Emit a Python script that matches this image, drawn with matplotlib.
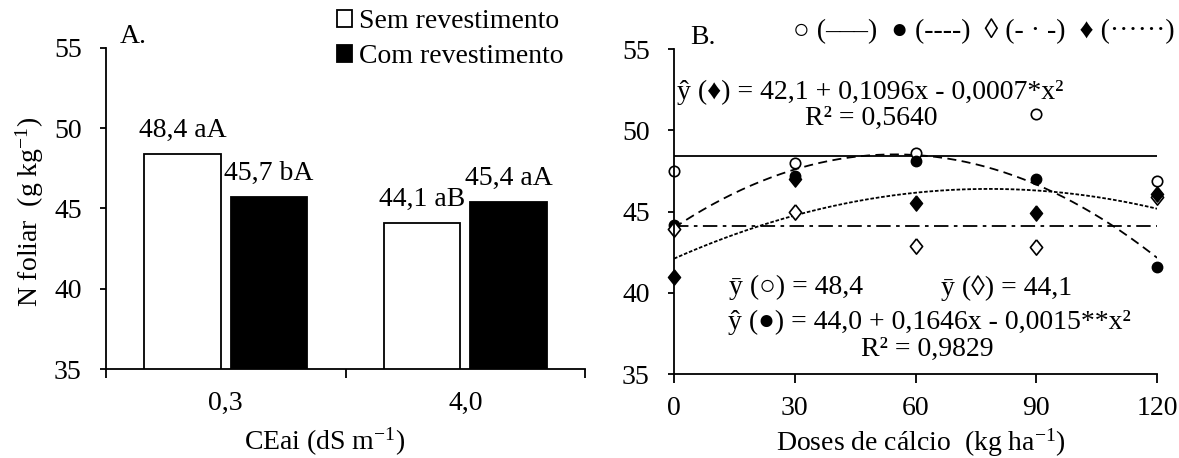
import matplotlib
matplotlib.use("Agg")
import matplotlib.pyplot as plt
from matplotlib.patches import Patch
import numpy as np

plt.rcParams['font.family'] = ['Liberation Serif', 'DejaVu Serif']
plt.rcParams['mathtext.fontset'] = 'custom'
plt.rcParams['mathtext.rm'] = 'Liberation Serif'
plt.rcParams['mathtext.it'] = 'Liberation Serif:italic'
plt.rcParams['font.size'] = 20

# panel A data
cea_labels = ['0,3', '4,0']
sem_rev = [48.4, 44.1]
com_rev = [45.7, 45.4]
sem_txt = ['48,4 aA', '44,1 aB']
com_txt = ['45,7 bA', '45,4 aA']

# panel B data
doses = [0, 30, 60, 90, 120]
open_circ = [47.5, 48.0, 48.6, 51.0, 46.9]
fill_circ = [44.2, 47.2, 48.1, 47.0, 41.6]
open_diam = [43.9, 45.0, 42.9, 42.8, 45.9]
fill_diam = [41.0, 47.0, 45.5, 44.9, 46.1]
mean_open_circ = 48.4
mean_open_diam = 44.1
coef_fill_circ = [44.0, 0.1646, -0.0015]
coef_fill_diam = [42.1, 0.1096, -0.0007]

fig = plt.figure(figsize=(11.79, 4.58), dpi=100)
axA = fig.add_axes([0.0899, 0.1943, 0.4063, 0.701])
axB = fig.add_axes([0.5717, 0.1834, 0.4097, 0.7096])

for ax in (axA, axB):
    ax.spines['top'].set_visible(False)
    ax.spines['right'].set_visible(False)
    ax.spines['left'].set_linewidth(1.3)
    ax.spines['bottom'].set_linewidth(1.3)
    ax.set_ylim(35, 55)
    ax.set_yticks([35, 40, 45, 50, 55])
    ax.tick_params(axis='y', direction='out', length=4.5, width=1.3, pad=13)
    ax.tick_params(axis='x', direction='out', length=6.5, width=1.3, pad=9)

# ---- panel A
idx = np.arange(len(cea_labels)) + 0.5
w = 0.32
off = 0.18
axA.bar(idx - off, sem_rev, w, color='white', edgecolor='black', linewidth=1.3)
axA.bar(idx + off, com_rev, w, color='black', edgecolor='black', linewidth=1.3)
for i in range(len(idx)):
    axA.text(idx[i] - off, sem_rev[i] + 1.05, sem_txt[i], ha='center', va='baseline')
    axA.text(idx[i] + off, com_rev[i] + 1.05, com_txt[i], ha='center', va='baseline')
axA.set_xlim(0, 2)
axA.set_xticks([0, 1, 2])
axA.set_xticklabels([])
axA.set_xticks(idx, minor=True)
axA.set_xticklabels(cea_labels, minor=True)
axA.tick_params(axis='x', which='minor', length=0, pad=16)
axA.set_ylabel('N foliar  (g kg$^{\\mathregular{-1}}$)')
axA.yaxis.set_label_coords(-0.125, 0.49)
axA.set_xlabel('CEai (dS m$^{\\mathregular{-1}}$)')
axA.xaxis.set_label_coords(0.457, -0.178)
axA.text(0.029, 55.3, 'A.', transform=axA.get_yaxis_transform(), va='baseline')
handles = [Patch(facecolor='white', edgecolor='black', linewidth=1.3),
           Patch(facecolor='black', edgecolor='black', linewidth=1.3)]
axA.legend(handles, ['Sem revestimento', 'Com revestimento'], frameon=False,
           loc='upper left', bbox_to_anchor=(0.482, 1.12), borderaxespad=0, borderpad=0,
           handlelength=0.55, handleheight=0.55, handletextpad=0.25, labelspacing=0.35)

# ---- panel B
xs = np.linspace(0, 120, 200)
axB.plot([0, 120], [mean_open_circ] * 2, color='black', lw=1.3)
axB.plot([0, 120], [mean_open_diam] * 2, color='black', lw=1.3, dashes=(8, 3, 2, 3))
axB.plot(xs, coef_fill_circ[0] + coef_fill_circ[1] * xs + coef_fill_circ[2] * xs ** 2,
         color='black', lw=1.3, dashes=(5, 3))
axB.plot(xs, coef_fill_diam[0] + coef_fill_diam[1] * xs + coef_fill_diam[2] * xs ** 2,
         color='black', lw=1.3, dashes=(2, 1))
diamond = [(0, 1), (0.8, 0), (0, -1), (-0.8, 0), (0, 1)]
axB.plot(doses, open_circ, 'o', ms=7.5, mfc='white', mec='black', mew=1.2, ls='none', clip_on=False)
axB.plot(doses, fill_circ, 'o', ms=7.5, mfc='black', mec='black', ls='none', clip_on=False)
axB.plot(doses, open_diam, marker=diamond, ms=11, mfc='white', mec='black', mew=1.2, ls='none', clip_on=False)
axB.plot(doses, fill_diam, marker=diamond, ms=11, mfc='black', mec='black', ls='none', clip_on=False)
axB.set_xlim(0, 120)
axB.set_xticks(doses)
axB.set_xlabel('Doses de cálcio  (kg ha$^{\\mathregular{-1}}$)')
axB.xaxis.set_label_coords(0.511, -0.16)
axB.text(0.033, 55.3, 'B.', transform=axB.get_yaxis_transform(), va='baseline')
axB.text(1.037, 56.1, '○ (–––)  ● (----)  ◊ (- · -)  ♦ (······)',
         transform=axB.get_yaxis_transform(), ha='right', va='center')
axB.text(0.406, 52.3, 'ŷ (♦) = 42,1 + 0,1096x - 0,0007*x²',
         transform=axB.get_yaxis_transform(), ha='center', va='center')
axB.text(0.408, 50.75, 'R² = 0,5640', transform=axB.get_yaxis_transform(), ha='center', va='center')
axB.text(0.253, 40.3, 'ȳ (○) = 48,4', transform=axB.get_yaxis_transform(), ha='center', va='center')
axB.text(0.689, 40.3, 'ȳ (◊) = 44,1', transform=axB.get_yaxis_transform(), ha='center', va='center')
axB.text(0.528, 38.2, 'ŷ (●) = 44,0 + 0,1646x - 0,0015**x²',
         transform=axB.get_yaxis_transform(), ha='center', va='center')
axB.text(0.524, 36.5, 'R² = 0,9829', transform=axB.get_yaxis_transform(), ha='center', va='center')

fig.savefig('out.png', dpi=100)
